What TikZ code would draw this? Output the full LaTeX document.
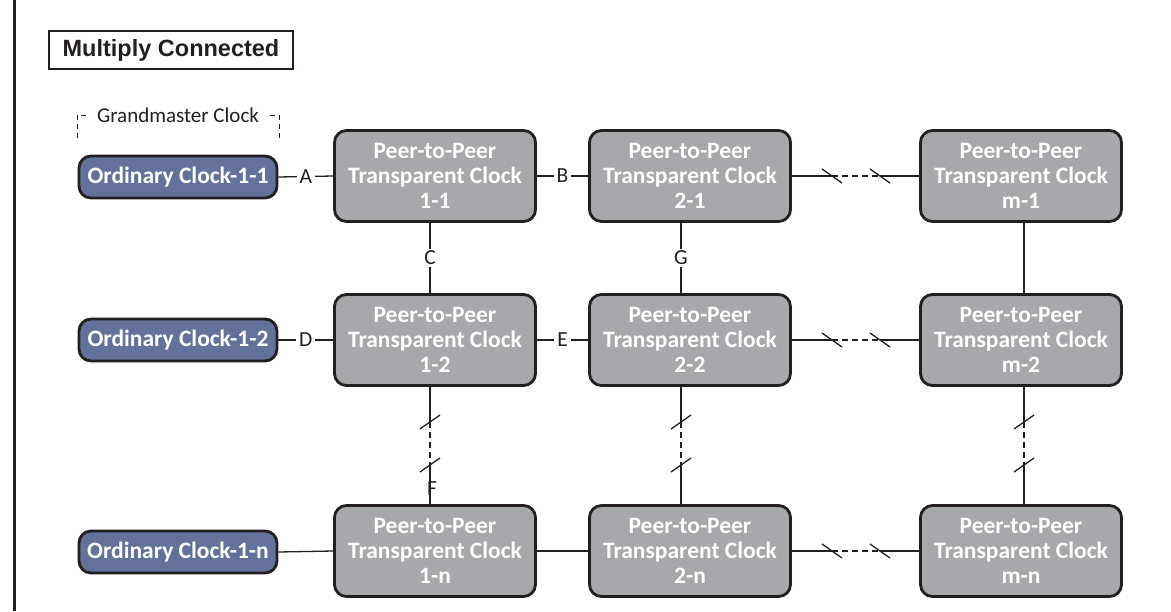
\documentclass[tikz,border=0pt]{standalone}
\usepackage{fontspec}
\setmainfont{Carlito}
\newfontfamily\headfont{Liberation Sans}
\usetikzlibrary{calc}
\definecolor{edgeink}{HTML}{231F20}
\definecolor{ocblue}{HTML}{64729B}
\definecolor{tcgray}{HTML}{A7A8AB}
\begin{document}
\begin{tikzpicture}[x=1pt,y=-1pt,
  tc/.style={draw=edgeink, line width=2.8pt, fill=tcgray, rounded corners=12pt,
    minimum width=201pt, minimum height=91pt, inner sep=0pt, align=center,
    text=white, font=\bfseries\fontsize{23.5}{25}\selectfont},
  oc/.style={draw=edgeink, line width=2.8pt, fill=ocblue, rounded corners=12pt,
    minimum width=198pt, minimum height=42pt, inner sep=0pt,
    text=white, font=\bfseries\fontsize{23.5}{25}\selectfont},
  link/.style={draw=edgeink, line width=1.3pt},
  gap/.style={link, dash pattern=on 6pt off 4pt},
  bracket/.style={draw=edgeink, line width=1pt, dash pattern=on 5pt off 4pt},
  tag/.style={fill=white, inner xsep=3pt, inner ysep=2pt, text=edgeink, font=\fontsize{21.5}{23}\selectfont},
]
\useasboundingbox (0,0) rectangle (1171,611);

% frame edge and heading
\draw[edgeink, line width=3pt] (14,0) -- (14,611);
\node[draw=edgeink, line width=2pt, minimum width=244pt, minimum height=38pt, inner sep=0pt,
  text=edgeink, font=\headfont\bfseries\fontsize{23.5}{26}\selectfont] (title) at (171,50) {Multiply Connected};

% grandmaster bracket
\coordinate (gml) at (77,138);
\coordinate (gmr) at (279,138);
\coordinate (gmc) at (178,115);
\draw[bracket] (gml) |- (gmc) -| (gmr);
\node[fill=white, inner xsep=7pt, inner ysep=2pt, text=edgeink, font=\fontsize{21}{23}\selectfont] (gm) at (gmc) {Grandmaster Clock};

% ordinary clocks
\node[oc] (o1) at (178,177) {Ordinary Clock-1-1};
\node[oc] (o2) at (178,340) {Ordinary Clock-1-2};
\node[oc] (on) at (178,552) {Ordinary Clock-1-n};

% transparent clocks
\foreach \c/\x in {1/435,2/690,m/1021}{
  \node[tc] (p\c1) at (\x,176) {Peer-to-Peer\\Transparent Clock\\\c-1};
  \node[tc] (p\c2) at (\x,340) {Peer-to-Peer\\Transparent Clock\\\c-2};
  \node[tc] (p\c n) at (\x,551) {Peer-to-Peer\\Transparent Clock\\\c-n};
}

% horizontal links
\draw[link] (o1.east) -- node[tag]{A} (p11.west);
\draw[link] (p11.east) -- node[tag]{B} (p21.west);
\draw[link] (o2.east) -- node[tag]{D} (p12.west);
\draw[link] (p12.east) -- node[tag]{E} (p22.west);
\draw[link] (on.east) -- (p1n.west);
\draw[link] (p1n.east) -- (p2n.west);

% horizontal links with a break
\foreach \r/\y in {1/176,2/340,n/551}{
  \coordinate (hb\r a) at (832,\y);
  \coordinate (hb\r b) at (880,\y);
  \draw[link] (p2\r.east) -- (hb\r a);
  \draw[gap] (hb\r a) -- (hb\r b);
  \draw[link] (hb\r b) -- (pm\r.west);
  \draw[link] ($(hb\r a)+(-10,-7)$) -- ($(hb\r a)+(10,7)$);
  \draw[link] ($(hb\r b)+(-10,-7)$) -- ($(hb\r b)+(10,7)$);
}

% vertical links between the first two rows
\coordinate (vc1) at (430,0);
\coordinate (vc2) at (681,0);
\coordinate (vcm) at (1024,0);
\draw[link] (p11.south -| vc1) -- node[tag]{C} (p12.north -| vc1);
\draw[link] (p21.south -| vc2) -- node[tag]{G} (p22.north -| vc2);
\draw[link] (pm1.south -| vcm) -- (pm2.north -| vcm);

% vertical links with a break
\foreach \c in {1,2,m}{
  \coordinate (vb\c a) at ($(vc\c)+(0,422)$);
  \coordinate (vb\c b) at ($(vc\c)+(0,465)$);
  \draw[link] (p\c2.south -| vc\c) -- (vb\c a);
  \draw[gap] (vb\c a) -- (vb\c b);
  \draw[link] (vb\c b) -- (p\c n.north -| vc\c);
  \draw[link] ($(vb\c a)+(-10,7)$) -- ($(vb\c a)+(10,-7)$);
  \draw[link] ($(vb\c b)+(-10,7)$) -- ($(vb\c b)+(10,-7)$);
}
\node[anchor=west, inner sep=0pt, text=edgeink, font=\fontsize{21.5}{23}\selectfont] (flabel) at (427,489) {F};

\end{tikzpicture}
\end{document}
